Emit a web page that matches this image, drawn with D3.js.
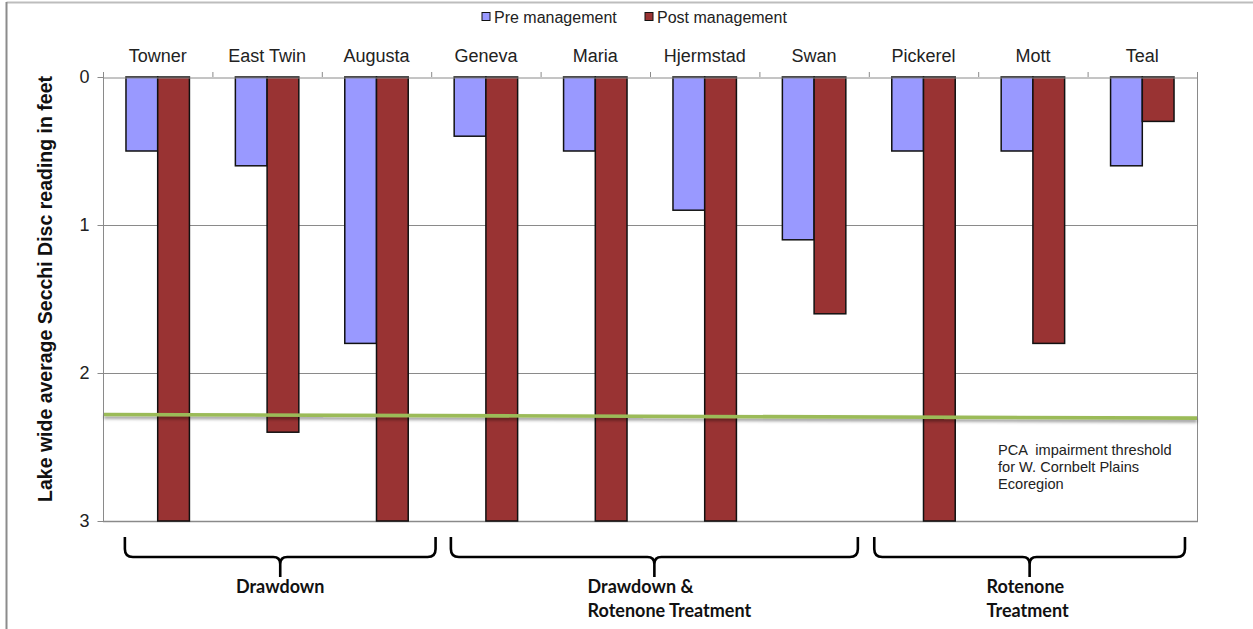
<!DOCTYPE html>
<html><head><meta charset="utf-8">
<script src="https://cdn.jsdelivr.net/npm/d3@7"></script>
<style>
html,body{margin:0;padding:0;background:#fff;}
svg{display:block;}
</style></head>
<body>
<svg id="chart" width="1253" height="629"></svg>
<script>
// ---- data ----
const lakes = ["Towner","East Twin","Augusta","Geneva","Maria","Hjermstad","Swan","Pickerel","Mott","Teal"];
const preManagement  = [0.5, 0.6, 1.8, 0.4, 0.5, 0.9, 1.1, 0.5, 0.5, 0.6];
const postManagement = [3.0, 2.4, 3.0, 3.0, 3.0, 3.0, 1.6, 3.0, 1.8, 0.3];
const seriesNames = ["Pre management","Post management"];
const yTicks = [0, 1, 2, 3];
const thresholdEnds = [2.28, 2.305];
const thresholdLines = ["PCA  impairment threshold","for W. Cornbelt Plains","Ecoregion"];
const groupNames = [["Drawdown"],["Drawdown &","Rotenone Treatment"],["Rotenone","Treatment"]];
const groupFirst = ["Towner","Geneva","Pickerel"];
const groupLast  = ["Augusta","Swan","Teal"];

// ---- layout ----
const colors = ["#9999FF","#993333"];
const L = 103, R = 1197, T = 77, B = 521;
const svg = d3.select("#chart");

// outer frame
svg.append("line").attr("x1",6.5).attr("x2",1260).attr("y1",2.5).attr("y2",2.5).attr("stroke","#bdbdbd").attr("stroke-width",2);
svg.append("line").attr("x1",6.5).attr("x2",6.5).attr("y1",2).attr("y2",640).attr("stroke","#8c8c8c").attr("stroke-width",2);

const x = d3.scaleBand().domain(lakes).range([L,R]).padding(0);
const y = d3.scaleLinear().domain([0,3]).range([T,B]);
const barW = x.bandwidth()*0.29;

// gridlines
svg.append("g").selectAll("line").data(yTicks.filter(d=>d>0 && d<3)).join("line")
  .attr("x1",L).attr("x2",R).attr("y1",d=>y(d)+0.5).attr("y2",d=>y(d)+0.5)
  .attr("stroke","#8a8a8a").attr("stroke-width",1);

// plot border (left, right, bottom)
svg.append("line").attr("x1",L+0.5).attr("x2",L+0.5).attr("y1",T).attr("y2",B).attr("stroke","#8a8a8a");
svg.append("line").attr("x1",R+0.5).attr("x2",R+0.5).attr("y1",T-5).attr("y2",B+0.5).attr("stroke","#8a8a8a");
svg.append("line").attr("x1",L).attr("x2",R+1).attr("y1",B+0.5).attr("y2",B+0.5).attr("stroke","#8a8a8a").attr("stroke-width",1.5);

// bars
const data = lakes.map((k,i)=>({lake:k, vals:[preManagement[i], postManagement[i]]}));
const g = svg.append("g");
data.forEach(d=>{
  const cx = x(d.lake)+x.bandwidth()/2;
  d.vals.forEach((v,j)=>{
    g.append("rect")
      .attr("x", j===0 ? cx-barW : cx)
      .attr("y", y(0))
      .attr("width", barW)
      .attr("height", y(v)-y(0))
      .attr("fill", colors[j])
      .attr("stroke","#111").attr("stroke-width",1.5);
  });
});

// top x axis
const xAxis = d3.axisTop(x).tickSize(0).tickPadding(0);
const xa = svg.append("g").attr("transform",`translate(0,${T+0.5})`).call(xAxis);
xa.select(".domain").attr("stroke","#8a8a8a");
xa.selectAll("text").attr("y",-16).attr("font-family","'Liberation Sans',Arial,sans-serif").attr("font-size",18).attr("fill","#222");
// boundary ticks
svg.append("g").selectAll("line").data(d3.range(lakes.length+1)).join("line")
  .attr("x1",i=>L+i*x.step()+0.5).attr("x2",i=>L+i*x.step()+0.5)
  .attr("y1",T-5).attr("y2",T).attr("stroke","#8a8a8a");

// y axis
const yAxis = d3.axisLeft(y).tickValues(yTicks).tickSize(6).tickPadding(8).tickFormat(d3.format("d"));
const ya = svg.append("g").attr("transform",`translate(${L+0.5},0)`).call(yAxis);
ya.select(".domain").remove();
ya.selectAll("line").attr("stroke","#8a8a8a");
ya.selectAll("text").attr("font-family","'Liberation Sans',Arial,sans-serif").attr("font-size",18).attr("fill","#222");

svg.append("text")
  .attr("transform",`translate(52,289) rotate(-90)`)
  .attr("text-anchor","middle")
  .attr("font-family","'Liberation Sans',Arial,sans-serif").attr("font-weight","bold").attr("font-size",19.5).attr("fill","#111")
  .text("Lake wide average Secchi Disc reading in feet");

// threshold line
const defs = svg.append("defs");
const f = defs.append("filter").attr("id","sh").attr("x","-5%").attr("y","-200%").attr("width","110%").attr("height","500%");
f.append("feDropShadow").attr("dx",0).attr("dy",2.5).attr("stdDeviation",1.6).attr("flood-color","#000").attr("flood-opacity",0.4);
svg.append("line")
  .attr("x1",L+1).attr("x2",R).attr("y1",y(thresholdEnds[0])).attr("y2",y(thresholdEnds[1]))
  .attr("stroke","#9BBB59").attr("stroke-width",3.6).attr("filter","url(#sh)");

svg.append("g").selectAll("text").data(thresholdLines).join("text")
  .attr("x",998).attr("y",(d,i)=>455+i*17)
  .attr("font-family","'Liberation Sans',Arial,sans-serif").attr("font-size",14.6).attr("fill","#222")
  .attr("xml:space","preserve").style("white-space","pre")
  .text(d=>d);

// legend
const lg = svg.append("g");
const legX = [482, 645];
seriesNames.forEach((s,i)=>{
  lg.append("rect").attr("x",legX[i]).attr("y",12.5).attr("width",8).attr("height",8)
    .attr("fill",colors[i]).attr("stroke","#111").attr("stroke-width",1);
  lg.append("text").attr("x",legX[i]+12).attr("y",22.5)
    .attr("font-family","'Liberation Sans',Arial,sans-serif").attr("font-size",16).attr("fill","#222").text(s);
});

// group brackets
const bracketPad = [[0.2,0.04],[0.18,-0.1],[0.05,-0.11]];
const textShift = [0,15,-2];
const yTop = 537, yMid = 557, yCusp = 577;
groupNames.forEach((lines,gi)=>{
  const x1 = x(groupFirst[gi]) + bracketPad[gi][0]*x.step();
  const x2 = x(groupLast[gi]) + x.step() + bracketPad[gi][1]*x.step();
  const cx = (x1+x2)/2;
  const p = `M${x1},${yTop} L${x1},${yMid-8} Q${x1},${yMid} ${x1+8},${yMid} L${cx-7},${yMid} Q${cx},${yMid} ${cx},${yMid+7} L${cx},${yCusp} M${cx},${yMid+7} Q${cx},${yMid} ${cx+7},${yMid} L${x2-8},${yMid} Q${x2},${yMid} ${x2},${yMid-8} L${x2},${yTop}`;
  svg.append("path").attr("d",p).attr("fill","none").attr("stroke","#000").attr("stroke-width",2.6);
  const tg = svg.append("g");
  const txts = lines.map((t,li)=> tg.append("text").attr("y",593+li*24)
      .attr("font-family","Lato,'Open Sans',sans-serif").attr("font-weight","bold").attr("font-size",18).attr("fill","#111").text(t));
  if (lines.length===1) {
    txts[0].attr("x",cx+textShift[gi]).attr("text-anchor","middle");
  } else {
    const maxW = d3.max(txts, t=>t.node().getComputedTextLength());
    txts.forEach(t=>t.attr("x",cx+textShift[gi]-maxW/2));
  }
});
</script>
</body></html>
